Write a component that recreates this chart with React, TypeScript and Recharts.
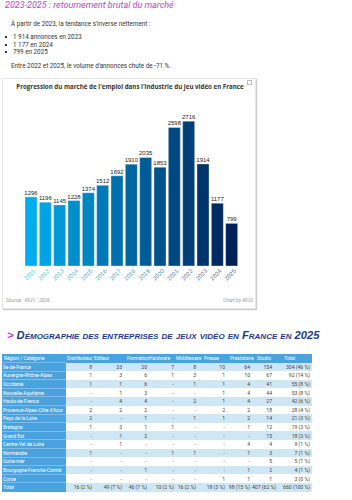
import { BarChart, Bar, XAxis, YAxis, Cell, LabelList } from 'recharts'

const YEARS = ['2011', '2012', '2013', '2014', '2015', '2016', '2017', '2018', '2019', '2020', '2021', '2022', '2023', '2024', '2025']
const OFFERS = [1296, 1196, 1145, 1228, 1374, 1512, 1692, 1910, 2035, 1853, 2598, 2716, 1914, 1177, 799]

const BAR_COLORS = [
  '#00AEEF', '#00A3E3', '#0099D8', '#008FCD', '#0085C2',
  '#007AB7', '#0070AC', '#0066A2', '#005C97', '#00528C',
  '#004881', '#003E77', '#00346C', '#002A62', '#002057',
]

const BULLETS = ['1 914 annonces en 2023', '1 177 en 2024', '799 en 2025']

const COLUMNS = ['Distributeur', 'Editeur', 'Formation', 'Hardware', 'Middleware', 'Presse', 'Prestataire', 'Studio', 'Total']
const REGIONS = [
  'Île-de-France', 'Auvergne-Rhône-Alpes', 'Occitanie', 'Nouvelle-Aquitaine', 'Hauts-de-France',
  'Provence-Alpes-Côte d\'Azur', 'Pays de la Loire', 'Bretagne', 'Grand Est', 'Centre-Val de Loire',
  'Normandie', 'Outre-mer', 'Bourgogne-Franche-Comté', 'Corse', 'Total',
]
const CELLS = [
  ['8', '33', '20', '7', '8', '10', '64', '154', '304 (46 %)'],
  ['1', '3', '6', '1', '3', '1', '10', '67', '92 (14 %)'],
  ['1', '1', '6', '-', '1', '1', '4', '41', '55 (8 %)'],
  ['-', '1', '3', '-', '-', '1', '4', '44', '53 (8 %)'],
  ['-', '4', '4', '-', '2', '1', '4', '27', '42 (6 %)'],
  ['2', '2', '2', '-', '-', '2', '2', '18', '28 (4 %)'],
  ['2', '-', '1', '-', '1', '1', '2', '14', '21 (3 %)'],
  ['1', '3', '1', '1', '-', '-', '1', '12', '19 (3 %)'],
  ['-', '1', '2', '-', '-', '-', '-', '15', '18 (3 %)'],
  ['-', '1', '-', '-', '-', '-', '4', '4', '9 (1 %)'],
  ['1', '-', '-', '1', '1', '-', '1', '3', '7 (1 %)'],
  ['-', '-', '-', '-', '-', '-', '-', '5', '5 (1 %)'],
  ['-', '-', '1', '-', '-', '-', '1', '2', '4 (1 %)'],
  ['-', '-', '-', '-', '-', '1', '1', '1', '3 (0 %)'],
  ['16 (2 %)', '49 (7 %)', '46 (7 %)', '10 (2 %)', '16 (2 %)', '18 (3 %)', '98 (15 %)', '407 (62 %)', '660 (100 %)'],
]

const data = YEARS.map((year, i) => ({ year, offers: OFFERS[i] }))

const COL_WIDTHS = [64, 28, 30, 25, 27, 22, 29, 25, 22, 38]
const HEAD_PAD = [2, 1, 0, 3, 0, 0, 6, 3, 5, 10]

function YearTick({ x, y, payload, index }: any) {
  return (
    <g transform={`translate(${x + 3},${y + 4}) rotate(-45)`}>
      <text x={0} y={0} dy="0.35em" textAnchor="end" fontSize={6} fill={BAR_COLORS[index]} fillOpacity={0.75}
        fontFamily="Liberation Sans, Arial, sans-serif">
        {payload.value}
      </text>
    </g>
  )
}

export default function App() {
  const font = 'Roboto, "Open Sans", sans-serif'
  return (
    <div style={{ position: 'relative', width: 352, height: 500, background: '#fff', fontFamily: font, color: '#333', overflow: 'hidden' }}>
      <style>{'body{margin:0}'}</style>

      <div style={{ position: 'absolute', left: 5, top: 0, fontSize: 9, fontStyle: 'italic', color: '#C93BD6' }}>
        2023-2025 : retournement brutal du marché
      </div>
      <div style={{ position: 'absolute', left: 11, top: 20, fontSize: 6.3 }}>
        À partir de 2023, la tendance s'inverse nettement :
      </div>
      {BULLETS.map((b, i) => (
        <div key={b} style={{ position: 'absolute', left: 5, top: 33 + i * 7.5, fontSize: 6.3 }}>
          <span style={{ display: 'inline-block', width: 2, height: 2, background: '#333', marginRight: 6, verticalAlign: 'middle' }} />
          {b}
        </div>
      ))}
      <div style={{ position: 'absolute', left: 11, top: 62, fontSize: 6.3 }}>
        Entre 2022 et 2025, le volume d'annonces chute de -71 %.
      </div>

      <div style={{ position: 'absolute', left: 2, top: 78, width: 254, height: 231, border: '1px solid #e6e6e6', boxShadow: '1px 1px 1px #ccc', boxSizing: 'border-box' }}>
        <div style={{ position: 'absolute', left: 0, width: 254, top: 3, textAlign: 'center', fontSize: 6.2, fontWeight: 700, color: '#333', fontFamily: '"Open Sans", sans-serif' }}>
          Progression du marché de l'emploi dans l'industrie du jeu vidéo en France
        </div>
        <div style={{ position: 'absolute', right: 3, top: 1, width: 3, height: 3, border: '0.5px solid #bbb' }} />
        <div style={{ position: 'absolute', left: -1, top: -1 }}>
          <BarChart width={254} height={231} data={data} margin={{ top: 28, right: 17, bottom: 0, left: 22 }} barCategoryGap={1}>
            <YAxis hide domain={[0, 3000]} />
            <XAxis dataKey="year" axisLine={false} tickLine={false} tickSize={0} tickMargin={0} height={43}
              interval={0} tick={<YearTick />} />
            <Bar dataKey="offers" isAnimationActive={false} stroke="#ffffff" strokeOpacity={0.35} strokeWidth={1}>
              {data.map((d, i) => (
                <Cell key={d.year} fill={BAR_COLORS[i]} />
              ))}
              <LabelList dataKey="offers" position="top" offset={2} fontSize={6} fill="#222"
                fontFamily="Liberation Sans, Arial, sans-serif" />
            </Bar>
          </BarChart>
        </div>
        <div style={{ position: 'absolute', left: 3, top: 219, fontSize: 4.8, color: '#999' }}>Source : AFJV - 2026</div>
        <div style={{ position: 'absolute', right: 2, top: 219, fontSize: 4.8, color: '#999' }}>Chart by AFJV</div>
      </div>

      <div style={{ position: 'absolute', left: 7, top: 329, fontSize: 11.2, fontWeight: 700, fontStyle: 'italic', fontVariant: 'small-caps', color: '#1B3A8C', fontFamily: '"Liberation Sans", Arial, sans-serif', whiteSpace: 'nowrap' }}>
        <span style={{ color: '#C93BD6', marginRight: 3 }}>&gt;</span>
        Démographie des entreprises de jeux vidéo en France en 2025
      </div>

      <table style={{ position: 'absolute', left: 2, top: 354, borderCollapse: 'collapse', tableLayout: 'fixed', fontSize: 5.1, fontFamily: font, width: 310 }}>
        <colgroup>
          {COL_WIDTHS.map((w, i) => <col key={i} style={{ width: w }} />)}
        </colgroup>
        <thead>
          <tr style={{ height: 8.6, background: '#4AA3DF', color: '#fff', fontSize: 4.9 }}>
            <td style={{ padding: '0 0 0 2px', whiteSpace: 'nowrap' }}>Région / Catégorie</td>
            {COLUMNS.map((c, i) => (
              <td key={c} style={{ whiteSpace: 'nowrap', padding: 0, textIndent: HEAD_PAD[i + 1] }}>{c}</td>
            ))}
          </tr>
        </thead>
        <tbody>
          {REGIONS.map((r, ri) => (
            <tr key={r} style={{ height: 8.6, background: ri % 2 === 0 ? '#CFE6F5' : '#fff', color: '#444' }}>
              <td style={{ background: '#4AA3DF', color: '#fff', whiteSpace: 'nowrap', borderTop: '0.5px solid #7dbde8', padding: '0 0 0 1px', fontSize: 4.9 }}>{r}</td>
              {CELLS[ri].map((v, ci) => (
                <td key={ci} style={{ textAlign: 'right', padding: '0 2px 0 0', whiteSpace: 'nowrap' }}>{v}</td>
              ))}
            </tr>
          ))}
        </tbody>
      </table>
    </div>
  )
}
